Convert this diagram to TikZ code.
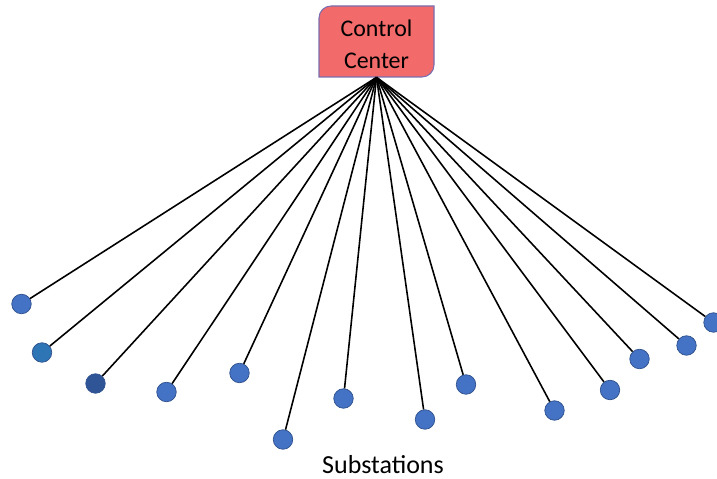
\documentclass[tikz,border=0pt]{standalone}
\usepackage{fontspec}
\setmainfont{Carlito}
\definecolor{ccfill}{RGB}{242,106,106}
\definecolor{ccline}{RGB}{120,110,176}
\definecolor{subfill}{RGB}{68,114,196}
\definecolor{subline}{RGB}{47,82,143}
\definecolor{subteal}{RGB}{46,117,182}
\definecolor{subdark}{RGB}{47,85,151}
\tikzset{
  ccbox/.style={fill=ccfill, draw=ccline, line width=0.6pt},
  sub/.style={circle, fill=subfill, draw=subline, line width=0.4pt,
              minimum size=0.39cm, inner sep=0pt},
  link/.style={black, line width=0.9pt}
}
\begin{document}
\begin{tikzpicture}[x=0.02cm, y=-0.02cm]
\useasboundingbox (0,0) rectangle (717,479);
\clip (0,0) rectangle (717,479);

% control center box: rounded top-left and bottom-right corners
\path[ccbox] (319,77) -- (319,18)
  .. controls (319,11.4) and (324.4,6) .. (331,6)
  -- (434,6) -- (434,65)
  .. controls (434,71.6) and (428.6,77) .. (422,77)
  -- cycle;
\node[align=center, font=\fontsize{13.6}{18}\selectfont,
      minimum width=2.3cm, minimum height=1.32cm, inner sep=0pt]
  (cc) at (376.5,44) {Control\\Center};

% substations
\node[sub] (s1) at (21.5,304) {};
\node[sub, fill=subteal] (s2) at (42,352.5) {};
\node[sub, fill=subdark] (s3) at (95.5,383.5) {};
\node[sub] (s4) at (166.5,392) {};
\node[sub] (s5) at (239.5,373) {};
\node[sub] (s6) at (283,439.5) {};
\node[sub] (s7) at (343.5,398.5) {};
\node[sub] (s8) at (425,419.5) {};
\node[sub] (s9) at (466,384.5) {};
\node[sub] (s10) at (554.5,410.5) {};
\node[sub] (s11) at (610,390) {};
\node[sub] (s12) at (639.5,359) {};
\node[sub] (s13) at (686.5,345.5) {};
\node[sub] (s14) at (713.5,322.5) {};

% links from the control center to every substation
\foreach \i in {1,...,14} {
  \draw[link] (cc.south) -- (s\i);
}

\node[font=\fontsize{14.8}{18}\selectfont] (lbl) at (383,465) {Substations};
\end{tikzpicture}
\end{document}
